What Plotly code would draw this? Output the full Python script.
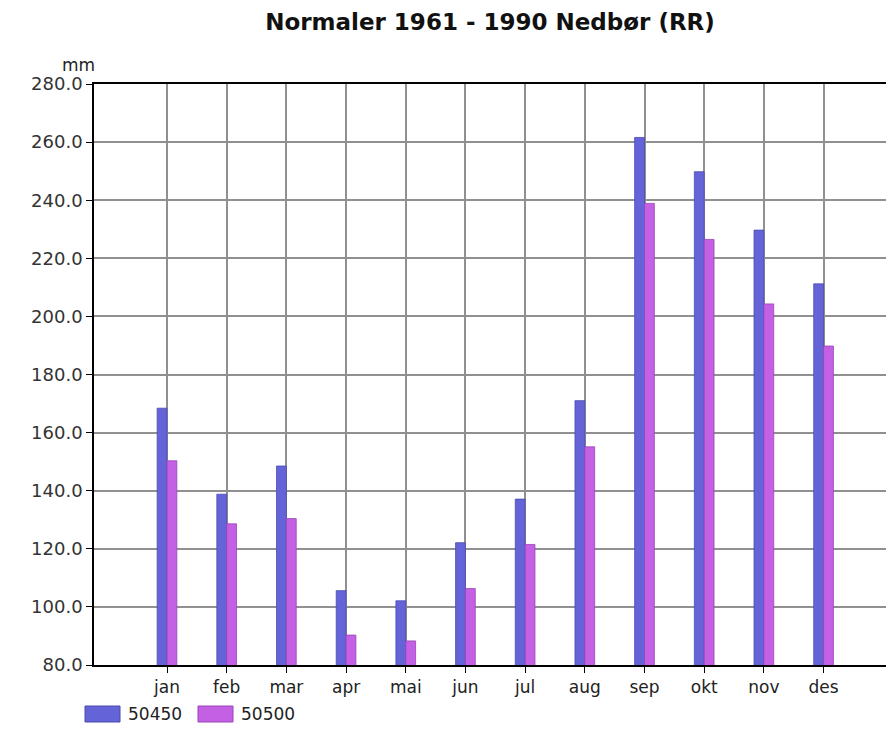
import plotly.graph_objects as go

months = ["jan", "feb", "mar", "apr", "mai", "jun", "jul", "aug", "sep", "okt", "nov", "des"]
s50450 = [168.4, 138.8, 148.5, 105.6, 102.1, 122.1, 137.1, 171.0, 261.6, 249.8, 229.7, 211.2]
s50500 = [150.3, 128.6, 130.4, 90.3, 88.3, 106.3, 121.5, 155.1, 238.9, 226.5, 204.3, 189.8]
yticks = [80, 100, 120, 140, 160, 180, 200, 220, 240, 260, 280]
series_names = ["50450", "50500"]
series_colors = ["#6464d8", "#c460e4"]
edge_colors = ["#4a4ab0", "#9a44b8"]

# page body has an 8px margin; figure is sized so the window shows it like the reference
W, H = 886, 727
L, R, T, B = 86, 0, 76, 70
PW, PH = W - L - R, H - T - B
FONT = "DejaVu Sans"

fig = go.Figure()
for name, vals, col, edge in zip(series_names, [s50450, s50500], series_colors, edge_colors):
    fig.add_trace(go.Bar(x=months, y=vals, name=name, base=0, showlegend=False,
                         marker=dict(color=col, line=dict(color=edge, width=0.8))))

fig.update_layout(
    width=W, height=H,
    margin=dict(l=L, r=R, t=T, b=B, pad=0),
    paper_bgcolor="white", plot_bgcolor="white",
    barmode="group", bargap=0.67, bargroupgap=0,
    font=dict(family=FONT, size=17, color="#333333"),
    title=dict(text="<b>Normaler 1961 - 1990 Nedbør (RR)</b>",
               x=482 / W, xanchor="center",
               y=1 - 14 / H, yanchor="middle", yref="container",
               font=dict(family=FONT, size=23, color="#111111")),
    showlegend=False,
)

fig.update_xaxes(
    type="category", range=[-1.223, 12.18],
    showgrid=True, gridcolor="#909090", gridwidth=1.6,
    showline=True, linecolor="black", linewidth=1.5, mirror=True,
    ticks="outside", ticklen=6, tickcolor="black", tickwidth=1,
    tickfont=dict(family=FONT, size=17, color="#222222"),
    zeroline=False,
)
fig.update_yaxes(
    range=[80, 280], tickvals=yticks, ticktext=[f"{v:.1f}" for v in yticks],
    showgrid=True, gridcolor="#909090", gridwidth=1.6,
    showline=True, linecolor="black", linewidth=1.5, mirror=False,
    ticks="outside", ticklen=6, tickcolor="black", tickwidth=1,
    tickfont=dict(family=FONT, size=18, color="#333333"),
    zeroline=False,
)

fig.add_annotation(text="mm", xref="paper", yref="paper",
                   x=(70 - L) / PW, y=1 + 19 / PH,
                   xanchor="center", yanchor="middle", showarrow=False,
                   font=dict(family=FONT, size=17, color="#222222"))

# legend drawn as swatches + text (wide rectangular swatches as in the reference)
leg_y = 706  # figure px, center
swatch_x = [77, 190]
for sx, name, col, edge in zip(swatch_x, series_names, series_colors, edge_colors):
    fig.add_shape(type="rect", xref="paper", yref="paper",
                  x0=(sx - L) / PW, x1=(sx + 35 - L) / PW,
                  y0=(H - B - (leg_y + 8)) / PH, y1=(H - B - (leg_y - 8)) / PH,
                  fillcolor=col, line=dict(color=edge, width=1))
    fig.add_annotation(text=name, xref="paper", yref="paper",
                       x=(sx + 41 - L) / PW, y=(H - B - leg_y) / PH,
                       xanchor="left", yanchor="middle", showarrow=False,
                       font=dict(family=FONT, size=17, color="#222222"))

fig.write_html("out.html")
